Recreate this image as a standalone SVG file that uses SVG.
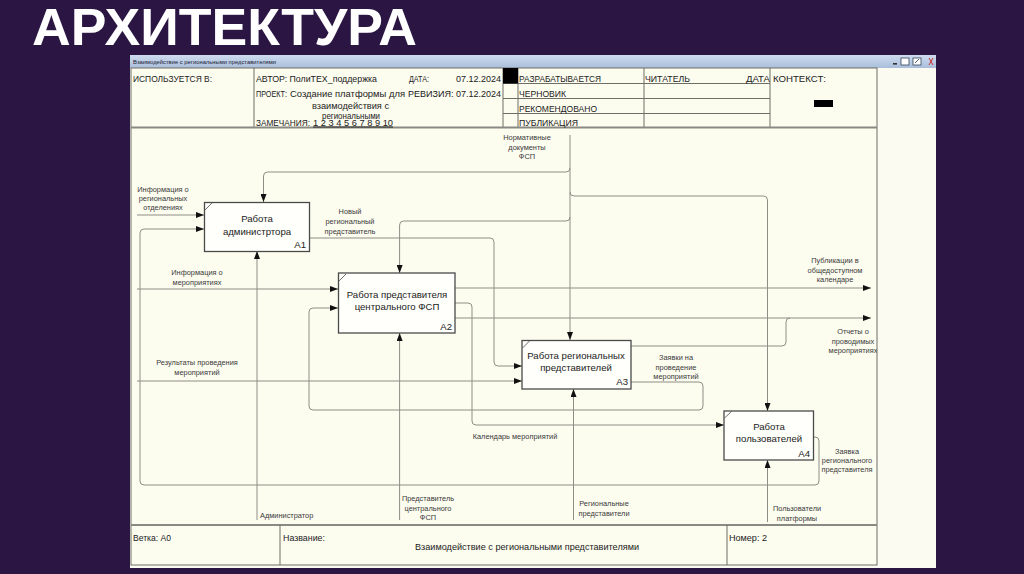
<svg xmlns="http://www.w3.org/2000/svg" width="1024" height="574" viewBox="0 0 1024 574">
<defs>
<marker id="ah" viewBox="0 0 8 6" refX="8" refY="3" markerWidth="8" markerHeight="6" markerUnits="userSpaceOnUse" orient="auto"><path d="M0,0 L8,3 L0,6 z" fill="#111"/></marker>
<linearGradient id="tb" x1="0" y1="0" x2="0" y2="1"><stop offset="0" stop-color="#cfdcef"/><stop offset="1" stop-color="#a9bedb"/></linearGradient>
<clipPath id="fc"><rect x="131" y="68" width="746" height="497"/></clipPath>
</defs>
<style>
.hd{font-family:"Liberation Sans",Arial,sans-serif;font-size:9.5px;fill:#222}
.lbl{font-family:"Liberation Sans",Arial,sans-serif;font-size:7.4px;fill:#3a3a3a;text-anchor:middle}
.lbs{font-family:"Liberation Sans",Arial,sans-serif;font-size:7.4px;fill:#3a3a3a;text-anchor:start}
.bx{fill:#fffffb;stroke:#4a4a4a;stroke-width:1.3}
.bt{font-family:"Liberation Sans",Arial,sans-serif;font-size:9.6px;fill:#222;text-anchor:middle}
.bn{font-family:"Liberation Sans",Arial,sans-serif;font-size:9.6px;fill:#222;text-anchor:end}
.cn{fill:none;stroke:#8e8e86;stroke-width:1}
.ar{marker-end:url(#ah)}
.gl{stroke:#6e6e66;stroke-width:1;fill:none}
</style>
<rect x="0" y="0" width="1024" height="574" fill="#2a1543"/>
<text x="32" y="45" font-family="Liberation Sans,Arial,sans-serif" font-weight="bold" font-size="52" fill="#ffffff" textLength="385" lengthAdjust="spacingAndGlyphs">АРХИТЕКТУРА</text>

<g id="window">
<rect x="130" y="55" width="806" height="513" fill="#fbfbf2"/>
<rect x="130" y="55" width="806" height="13" fill="url(#tb)"/>
<text x="133" y="63.5" font-family="Liberation Sans,Arial,sans-serif" font-size="5.6" fill="#223" textLength="143" lengthAdjust="spacingAndGlyphs">Взаимодействие с региональными представителями</text>
<rect x="893" y="63" width="4" height="1.6" fill="#333"/>
<rect x="901" y="58" width="8" height="7" fill="#fff" stroke="#345" stroke-width="0.8"/>
<rect x="913" y="58" width="8" height="7" fill="#fff" stroke="#345" stroke-width="0.8"/>
<path d="M915,63 L919,59" stroke="#345" stroke-width="0.8"/>
<path d="M929,58 L933,65 M933,58 L929,65" stroke="#c33" stroke-width="1"/>
<rect x="131" y="68" width="746" height="497" fill="#fcfcef" stroke="#6e6e66" stroke-width="1"/>
</g>

<g id="header">
<line x1="254" y1="68" x2="254" y2="127" class="gl"/>
<line x1="503" y1="68" x2="503" y2="127" class="gl"/>
<line x1="518" y1="68" x2="518" y2="127" class="gl"/>
<line x1="644" y1="68" x2="644" y2="127" class="gl"/>
<line x1="770" y1="68" x2="770" y2="127" class="gl"/>
<line x1="503" y1="83.5" x2="770" y2="83.5" class="gl"/>
<line x1="503" y1="98.5" x2="770" y2="98.5" class="gl"/>
<line x1="503" y1="113.5" x2="770" y2="113.5" class="gl"/>
<rect x="503" y="68" width="15" height="15.5" fill="#000"/>
<rect x="814" y="100" width="19" height="7" fill="#000"/>
<line x1="131" y1="127.5" x2="877" y2="127.5" stroke="#8a8a84" stroke-width="2"/>
<text class="hd" x="133" y="82" textLength="79" lengthAdjust="spacingAndGlyphs">ИСПОЛЬЗУЕТСЯ В:</text>
<text class="hd" x="256" y="82" textLength="121" lengthAdjust="spacingAndGlyphs">АВТОР: ПолиТЕХ_поддержка</text>
<text class="hd" x="409" y="82" textLength="20" lengthAdjust="spacingAndGlyphs">ДАТА:</text>
<text class="hd" x="456" y="82" textLength="45" lengthAdjust="spacingAndGlyphs">07.12.2024</text>
<text class="hd" x="256" y="97" textLength="31" lengthAdjust="spacingAndGlyphs">ПРОЕКТ:</text>
<text class="hd" x="290" y="97" textLength="115" lengthAdjust="spacingAndGlyphs">Создание платформы для</text>
<text class="hd" x="408" y="97" textLength="93" lengthAdjust="spacingAndGlyphs">РЕВИЗИЯ: 07.12.2024</text>
<text class="hd" x="312" y="108.5" textLength="77" lengthAdjust="spacingAndGlyphs">взаимодействия с</text>
<text class="hd" x="322" y="118.5" textLength="58" lengthAdjust="spacingAndGlyphs">региональными</text>
<text class="hd" x="256" y="125.5" textLength="54" lengthAdjust="spacingAndGlyphs">ЗАМЕЧАНИЯ:</text>
<text class="hd" x="313" y="125.5" textLength="80" lengthAdjust="spacingAndGlyphs" text-decoration="underline">1 2 3 4 5 6 7 8 9 10</text>
<text class="hd" x="519" y="81.5" textLength="82" lengthAdjust="spacingAndGlyphs">РАЗРАБАТЫВАЕТСЯ</text>
<text class="hd" x="519" y="96.5" textLength="47" lengthAdjust="spacingAndGlyphs">ЧЕРНОВИК</text>
<text class="hd" x="519" y="111.5" textLength="78" lengthAdjust="spacingAndGlyphs">РЕКОМЕНДОВАНО</text>
<text class="hd" x="519" y="125.5" textLength="59" lengthAdjust="spacingAndGlyphs">ПУБЛИКАЦИЯ</text>
<text class="hd" x="645" y="81.5" textLength="45" lengthAdjust="spacingAndGlyphs">ЧИТАТЕЛЬ</text>
<text class="hd" x="746" y="81.5" textLength="24" lengthAdjust="spacingAndGlyphs">ДАТА</text>
<text class="hd" x="773" y="82" textLength="53" lengthAdjust="spacingAndGlyphs">КОНТЕКСТ:</text>
</g>

<g id="footer">
<line x1="131" y1="525" x2="877" y2="525" stroke="#8a8a84" stroke-width="2"/>
<line x1="280" y1="525" x2="280" y2="565" class="gl"/>
<line x1="727" y1="525" x2="727" y2="565" class="gl"/>
<text class="hd" x="133" y="541" textLength="38" lengthAdjust="spacingAndGlyphs">Ветка: А0</text>
<text class="hd" x="283" y="541" textLength="42" lengthAdjust="spacingAndGlyphs">Название:</text>
<text class="hd" x="415" y="549.5" textLength="224" lengthAdjust="spacingAndGlyphs">Взаимодействие с региональными представителями</text>
<text class="hd" x="729" y="541" textLength="38" lengthAdjust="spacingAndGlyphs">Номер: 2</text>
</g>

<g id="connectors">
<path class="cn ar" d="M570,135 V340"/>
<path class="cn ar" d="M570,168 Q570,172 566,172 H267.5 Q263.5,172 263.5,176 V202"/>
<path class="cn ar" d="M570,192 Q570,196 574,196 H763.5 Q767.5,196 767.5,200 V411"/>
<path class="cn ar" d="M570,217 Q570,221 566,221 H403.6 Q399.6,221 399.6,225 V273"/>
<path class="cn ar" d="M137,215 H204"/>
<path class="cn ar" d="M813,437 H815 Q819,437 819,441 V481 Q819,485 815,485 H144 Q140,485 140,481 V233 Q140,229 144,229 H204"/>
<path class="cn ar" d="M309,238 H490 Q494,238 494,242 V362 Q494,366 498,366 H522"/>
<path class="cn ar" d="M137,289 H338"/>
<path class="cn ar" d="M631,382 H699 Q703,382 703,386 V406 Q703,410 699,410 H313 Q309,410 309,406 V312 Q309,308 313,308 H338"/>
<path class="cn ar" d="M137,381 H522"/>
<path class="cn ar" d="M455,288 H871"/>
<path class="cn ar" d="M455,318 H871"/>
<path class="cn" d="M631,346 H782 Q786,346 786,342 V322 Q786,318 790,318"/>
<path class="cn ar" d="M455,303 H468 Q472,303 472,307 V421 Q472,425 476,425 H724"/>
<path class="cn ar" d="M257,520 V251"/>
<path class="cn ar" d="M399.6,520 V333"/>
<path class="cn ar" d="M573.5,520 V389"/>
<path class="cn ar" d="M767.5,522 V460"/>
<g id="connector-labels">
<text class="lbl" x="527" y="140">Нормативные</text>
<text class="lbl" x="527" y="150">документы</text>
<text class="lbl" x="527" y="159">ФСП</text>
<text class="lbl" x="163" y="192">Информация о</text>
<text class="lbl" x="163" y="201">региональных</text>
<text class="lbl" x="163" y="210">отделениях</text>
<text class="lbl" x="350" y="214">Новый</text>
<text class="lbl" x="350" y="224">региональный</text>
<text class="lbl" x="350" y="234">представитель</text>
<text class="lbl" x="197" y="275">Информация о</text>
<text class="lbl" x="197" y="285">мероприятиях</text>
<text class="lbl" x="197" y="365">Результаты проведения</text>
<text class="lbl" x="197" y="375">мероприятий</text>
<text class="lbl" x="835" y="263">Публикации в</text>
<text class="lbl" x="835" y="273">общедоступном</text>
<text class="lbl" x="835" y="282">календаре</text>
<g clip-path="url(#fc)">
<text class="lbl" x="853" y="334">Отчеты о</text>
<text class="lbl" x="853" y="344">проводимых</text>
<text class="lbl" x="853" y="353">мероприятиях</text>
</g>
<text class="lbl" x="676" y="360">Заявки на</text>
<text class="lbl" x="676" y="370">проведение</text>
<text class="lbl" x="676" y="379">мероприятий</text>
<text class="lbl" x="515" y="439">Календарь мероприятий</text>
<text class="lbl" x="847" y="454">Заявка</text>
<text class="lbl" x="847" y="463">регионального</text>
<text class="lbl" x="847" y="472">представителя</text>
<text class="lbs" x="260" y="518">Администратор</text>
<text class="lbl" x="428" y="501">Представитель</text>
<text class="lbl" x="428" y="511">центрального</text>
<text class="lbl" x="428" y="520">ФСП</text>
<text class="lbl" x="604" y="506">Региональные</text>
<text class="lbl" x="604" y="516">представители</text>
<text class="lbl" x="797" y="511">Пользователи</text>
<text class="lbl" x="797" y="521">платформы</text>
</g>
</g>

<g id="A1">
<rect class="bx" x="204.5" y="202.5" width="105" height="49"/>
<path d="M205,210 L212,203" stroke="#4a4a4a" stroke-width="0.8"/>
<text class="bt" x="257" y="222">Работа</text>
<text class="bt" x="257" y="235">администртора</text>
<text class="bn" x="306" y="248">A1</text>
</g>
<g id="A2">
<rect class="bx" x="338.5" y="273" width="116.5" height="60"/>
<path d="M339,281 L346,274" stroke="#4a4a4a" stroke-width="0.8"/>
<text class="bt" x="397" y="298">Работа представителя</text>
<text class="bt" x="397" y="310">центрального ФСП</text>
<text class="bn" x="452" y="330">A2</text>
</g>
<g id="A3">
<rect class="bx" x="522" y="340.5" width="109" height="48.5"/>
<path d="M522.5,348 L529.5,341" stroke="#4a4a4a" stroke-width="0.8"/>
<text class="bt" x="576" y="359">Работа региональных</text>
<text class="bt" x="576" y="371">представителей</text>
<text class="bn" x="628" y="385">A3</text>
</g>
<g id="A4">
<rect class="bx" x="724" y="411" width="89.5" height="49"/>
<path d="M724.5,418 L731.5,411.5" stroke="#4a4a4a" stroke-width="0.8"/>
<text class="bt" x="769" y="430">Работа</text>
<text class="bt" x="769" y="442">пользователей</text>
<text class="bn" x="810" y="457">A4</text>
</g>
</svg>
